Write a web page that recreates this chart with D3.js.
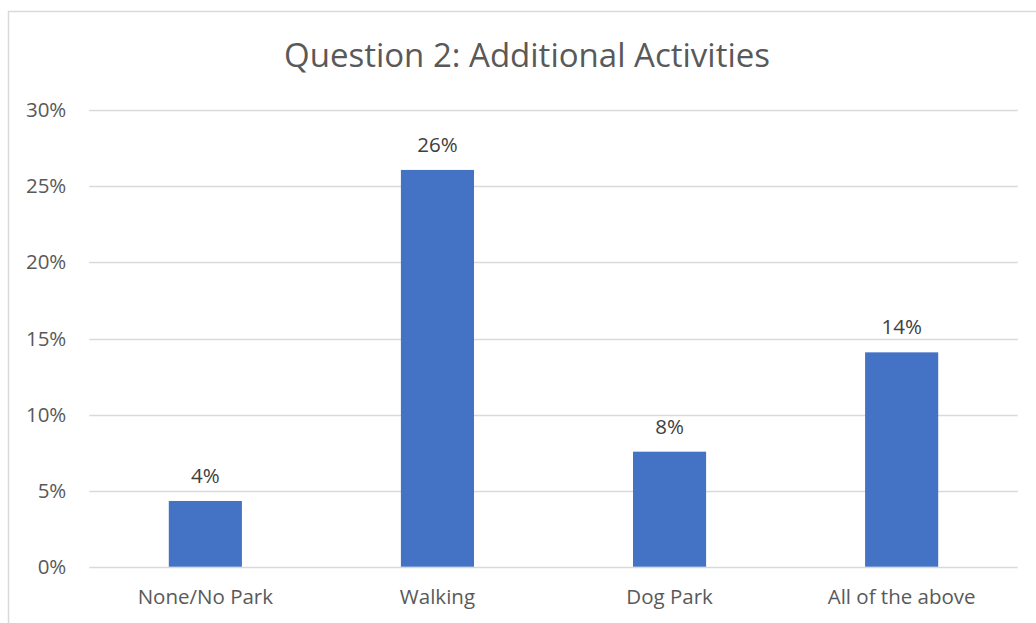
<!DOCTYPE html>
<html><head><meta charset="utf-8">
<script src="https://cdn.jsdelivr.net/npm/d3@7"></script>
<style>body{margin:0;background:#fff}svg{display:block}text{font-family:"Open Sans",sans-serif}</style>
</head><body>
<script>
const categories = ["None/No Park","Walking","Dog Park","All of the above"];
const values = [0.0432, 0.2608, 0.0756, 0.1409];
const labels = ["4%","26%","8%","14%"];
const yTicks = [0,0.05,0.10,0.15,0.20,0.25,0.30];
const title = "Question 2: Additional Activities";

(function(){
const W=1036,H=623;
const svg=d3.select("body").append("svg").attr("width",W).attr("height",H);
svg.append("rect").attr("x",8.5).attr("y",11.5).attr("width",1040).attr("height",640).attr("fill","#fff").attr("stroke","#d9d9d9").attr("stroke-width",1.5);

const pl=89.3,pr=1017.7,pt=110.3,pb=566.7;
const fs=20.5;
const x=d3.scaleBand().domain(categories).range([pl,pr]).paddingInner(0).paddingOuter(0);
const y=d3.scaleLinear().domain([0,0.30]).range([pb,pt]);

const grid=svg.append("g");
grid.selectAll("line").data(yTicks).join("line")
 .attr("x1",pl).attr("x2",pr).attr("y1",d=>Math.round(y(d))+0.5).attr("y2",d=>Math.round(y(d))+0.5)
 .attr("stroke","#d9d9d9").attr("stroke-width",1.5);

const yAxis=d3.axisLeft(y).tickValues(yTicks).tickFormat(d3.format(".0%")).tickSize(0).tickPadding(23);
const ya=svg.append("g").attr("transform",`translate(${pl},0)`).call(yAxis);
ya.select(".domain").remove();
ya.selectAll("text").attr("font-size",fs).attr("fill","#595959").attr("font-family","Open Sans");

const xAxis=d3.axisBottom(x).tickSize(0).tickPadding(23);
const xa=svg.append("g").attr("transform",`translate(0,${pb})`).call(xAxis);
xa.select(".domain").remove();
xa.selectAll("text").attr("font-size",fs).attr("fill","#595959").attr("font-family","Open Sans");

const bw=x.bandwidth()*0.315;
svg.selectAll("rect.bar").data(values).join("rect").attr("class","bar")
 .attr("x",(d,i)=>x(categories[i])+x.bandwidth()/2-bw/2).attr("width",bw)
 .attr("y",d=>y(d)).attr("height",d=>pb-y(d)).attr("fill","#4472c4");

svg.selectAll("text.lbl").data(values).join("text").attr("class","lbl")
 .attr("x",(d,i)=>x(categories[i])+x.bandwidth()/2).attr("y",d=>y(d)-18)
 .attr("text-anchor","middle").attr("font-size",fs).attr("fill","#404040").text((d,i)=>labels[i]);

svg.append("text").attr("x",527).attr("y",67).attr("text-anchor","middle")
 .attr("font-size",33).attr("fill","#595959").text(title);
})();
</script>
</body></html>
